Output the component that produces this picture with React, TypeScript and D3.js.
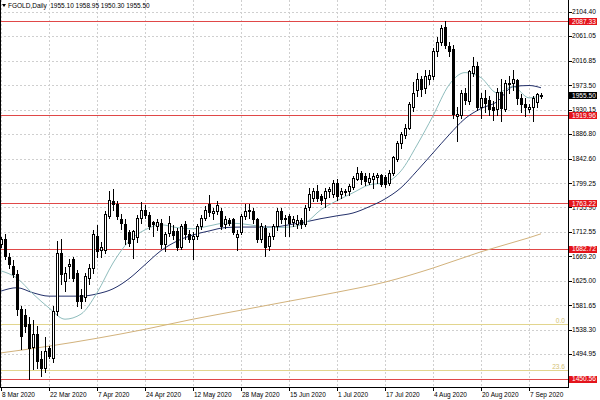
import React from "react";
import * as d3 from "d3";

// ---- Data ----
const opens = [
  1690, 1700, 1668, 1652, 1637, 1575, 1565, 1548, 1508, 1530, 1486, 1470, 1505, 1488, 1572, 1675, 1625, 1652, 1665, 1640,
  1600, 1597, 1630, 1648, 1705, 1680, 1680, 1740, 1768, 1762, 1735, 1727, 1712, 1700, 1703, 1737, 1752, 1743, 1730, 1723,
  1729, 1690, 1711, 1714, 1714, 1686, 1727, 1708, 1700, 1705, 1723, 1738, 1762, 1746, 1750, 1750, 1727, 1733, 1735, 1704,
  1712, 1740, 1751, 1750, 1735, 1700, 1720, 1688, 1705, 1722, 1750, 1737, 1740, 1730, 1726, 1734, 1726, 1757, 1773, 1785,
  1776, 1773, 1786, 1780, 1800, 1779, 1784, 1785, 1793, 1806, 1818, 1812, 1802, 1806, 1811, 1813, 1810, 1800, 1817, 1842,
  1870, 1884, 1898, 1935, 1965, 1985, 1968, 1985, 1990, 2035, 2050, 2077, 2043, 2038, 1918, 1920, 1960, 1946, 1996, 2008,
  1934, 1950, 1948, 1935, 1932, 1962, 1932, 1975, 1977, 1982, 1950, 1940, 1932, 1935, 1943, 1955.1,
];
const highs = [
  1703, 1709, 1674, 1662, 1645, 1580, 1575, 1560, 1556, 1545, 1500, 1525, 1510, 1580, 1697, 1700, 1650, 1665, 1668, 1645,
  1610, 1640, 1655, 1715, 1725, 1695, 1750, 1785, 1788, 1768, 1745, 1735, 1715, 1715, 1742, 1765, 1760, 1748, 1732, 1735,
  1735, 1712, 1741, 1724, 1720, 1726, 1732, 1715, 1712, 1727, 1742, 1758, 1778, 1755, 1768, 1755, 1740, 1738, 1738, 1715,
  1745, 1762, 1762, 1755, 1738, 1728, 1725, 1710, 1727, 1755, 1755, 1742, 1745, 1740, 1743, 1738, 1760, 1791, 1790, 1795,
  1780, 1790, 1792, 1805, 1806, 1790, 1789, 1798, 1812, 1828, 1820, 1818, 1818, 1817, 1818, 1816, 1814, 1822, 1848, 1874,
  1890, 1905, 1944, 1980, 1995, 1990, 2000, 2000, 2040, 2060, 2080, 2088, 2050, 2045, 1935, 1965, 1968, 2000, 2023, 2015,
  1960, 1965, 1955, 1945, 1968, 1985, 1983, 1990, 2000, 1985, 1958, 1950, 1940, 1955, 1960, 1958.95,
];
const lows = [
  1686, 1665, 1648, 1632, 1565, 1504, 1535, 1451, 1468, 1470, 1456, 1463, 1488, 1480, 1565, 1620, 1608, 1630, 1625, 1580,
  1577, 1590, 1620, 1640, 1668, 1668, 1675, 1738, 1752, 1735, 1718, 1690, 1688, 1666, 1695, 1728, 1738, 1718, 1705, 1715,
  1684, 1678, 1705, 1700, 1680, 1682, 1700, 1695, 1665, 1700, 1718, 1733, 1740, 1735, 1745, 1718, 1720, 1725, 1708, 1681,
  1708, 1735, 1738, 1728, 1695, 1694, 1670, 1680, 1700, 1716, 1728, 1705, 1705, 1722, 1720, 1720, 1722, 1752, 1768, 1768,
  1762, 1756, 1775, 1775, 1770, 1773, 1778, 1778, 1788, 1804, 1797, 1795, 1798, 1790, 1800, 1794, 1792, 1796, 1814, 1838,
  1862, 1880, 1895, 1928, 1955, 1955, 1960, 1975, 1985, 2025, 2045, 2040, 2025, 1915, 1874, 1915, 1940, 1940, 1990, 1930,
  1915, 1925, 1920, 1912, 1920, 1910, 1928, 1960, 1965, 1940, 1925, 1918, 1925, 1910, 1935, 1950.3,
];
const closes = [
  1700, 1670, 1655, 1638, 1575, 1527, 1545, 1506, 1530, 1482, 1470, 1500, 1492, 1572, 1675, 1638, 1640, 1655, 1630, 1590,
  1590, 1633, 1648, 1708, 1678, 1685, 1745, 1770, 1762, 1740, 1728, 1700, 1692, 1714, 1737, 1752, 1743, 1723, 1726, 1730,
  1690, 1708, 1729, 1706, 1685, 1722, 1708, 1700, 1705, 1723, 1738, 1752, 1748, 1750, 1760, 1723, 1735, 1729, 1712, 1709,
  1740, 1750, 1749, 1735, 1700, 1722, 1685, 1705, 1722, 1750, 1735, 1735, 1729, 1735, 1734, 1727, 1755, 1780, 1785, 1773,
  1770, 1785, 1788, 1800, 1776, 1785, 1785, 1794, 1809, 1818, 1806, 1803, 1809, 1812, 1813, 1797, 1797, 1818, 1845, 1871,
  1886, 1898, 1940, 1960, 1985, 1967, 1990, 1992, 2035, 2050, 2075, 2045, 2035, 1922, 1922, 1960, 1948, 1998, 2008, 1934,
  1950, 1942, 1932, 1930, 1962, 1933, 1978, 1978, 1985, 1950, 1940, 1934, 1935, 1950, 1957, 1955.5,
];

const dateLabels = [
  "8 Mar 2020", "22 Mar 2020", "7 Apr 2020", "24 Apr 2020", "12 May 2020", "28 May 2020",
  "15 Jun 2020", "1 Jul 2020", "17 Jul 2020", "4 Aug 2020", "20 Aug 2020", "7 Sep 2020",
];
const dateLabelBars = [0, 12, 24, 36, 48, 60, 72, 84, 96, 108, 120, 132];

const priceTicks = [
  2104.4, 2061.05, 2016.85, 1973.5, 1930.15, 1886.8, 1842.6, 1799.25, 1755.9, 1712.55, 1669.2, 1625.0, 1581.65,
  1538.3, 1494.95,
];

const levelLines = [2087.33, 1919.96, 1763.22, 1682.72, 1450.56];
const fibLabels = ["0.0", "23.6"];
const fibValues = [1548.4, 1465.8];

const maBars = [0, 4, 8, 12, 16, 20, 24, 28, 32, 36, 40, 44, 48, 52, 56, 60, 64, 68, 72, 76, 80, 84, 88, 92, 96, 100, 104, 108, 112, 116, 120, 124, 128, 132, 135];
const fastMA = [1643, 1630, 1602, 1577, 1557, 1566, 1604, 1657, 1696, 1716, 1725, 1720, 1718, 1723, 1728, 1727, 1723, 1720, 1721, 1728, 1752, 1768, 1782, 1796, 1800, 1821, 1867, 1919, 1974, 1996, 1987, 1960, 1971, 1951, 1955];
const slowMA = [1607, 1613, 1604, 1598, 1598, 1598, 1602, 1611, 1629, 1654, 1679, 1696, 1707, 1714, 1720, 1721, 1721, 1721, 1725, 1730, 1736, 1741, 1746, 1757, 1771, 1791, 1821, 1853, 1885, 1914, 1932, 1944, 1971, 1973, 1969];
const longBars = [0, 12, 24, 36, 48, 60, 72, 84, 96, 108, 120, 132, 135];
const longMA = [1497, 1509, 1523, 1539, 1557, 1573, 1589, 1605, 1623, 1648, 1677, 1702, 1709];

const title = "FGOLD,Daily  1955.10 1958.95 1950.30 1955.50";
const currentPrice = 1955.5;

// ---- Layout ----
const W = 600;
const H = 400;
const PLOT_R = 568;
const PLOT_B = 387;
const FONT = "'Liberation Sans', Arial, sans-serif";
const LEVEL_COLOR = "#e04848";

const xs = d3.scaleLinear().domain([0, 141.75]).range([1, PLOT_R]);
const ys = d3.scaleLinear().domain([1436.25, 2125.23]).range([PLOT_B, 0]);

function fmt(v: number) {
  return v.toFixed(2);
}

export default function App() {
  const maLine = (vals: number[], bars: number[]) =>
    d3
      .line<number>()
      .x((_, k) => xs(bars[k]))
      .y((v) => ys(v))
      .curve(d3.curveMonotoneX)(vals) || "";

  const candles = opens.map((o, i) => {
    const c = closes[i];
    const h = highs[i];
    const l = lows[i];
    const cx = Math.round(xs(i));
    const yo = Math.round(ys(o));
    const yc = Math.round(ys(c));
    const yh = Math.round(ys(h));
    const yl = Math.round(ys(l));
    const parts: React.ReactNode[] = [];
    parts.push(<line key="w" x1={cx + 0.5} x2={cx + 0.5} y1={yh} y2={yl + 1} stroke="#000" strokeWidth={1} />);
    if (Math.abs(yo - yc) < 1) {
      parts.push(<line key="d" x1={cx - 1} x2={cx + 2} y1={yo + 0.5} y2={yo + 0.5} stroke="#000" strokeWidth={1} />);
    } else if (c > o) {
      parts.push(
        <rect key="b" x={cx - 0.5} y={yc + 0.5} width={2} height={yo - yc} fill="#fff" stroke="#000" strokeWidth={1} />
      );
    } else {
      parts.push(<rect key="b" x={cx - 1} y={yo} width={3} height={yc - yo + 1} fill="#000" />);
    }
    return <g key={i}>{parts}</g>;
  });

  return (
    <svg
      width={W}
      height={H}
      viewBox={`0 0 ${W} ${H}`}
      style={{ position: "absolute", left: 0, top: 0, background: "#fff", display: "block" }}
    >
      <rect x={0} y={0} width={W} height={H} fill="#fff" />
      {/* grid */}
      <g stroke="#cfcfcf" strokeDasharray="2,2" strokeWidth={1} shapeRendering="crispEdges">
        {priceTicks.map((p) => (
          <line key={"h" + p} x1={0} x2={PLOT_R} y1={Math.round(ys(p)) + 0.5} y2={Math.round(ys(p)) + 0.5} />
        ))}
        {dateLabelBars.map((b) => (
          <line key={"v" + b} x1={Math.round(xs(b)) + 0.5} x2={Math.round(xs(b)) + 0.5} y1={0} y2={PLOT_B} />
        ))}
      </g>

      {/* fibonacci lines */}
      {fibValues.map((v, k) => (
        <g key={"f" + k}>
          <rect x={0} y={Math.round(ys(v))} width={PLOT_R} height={1} fill="#e2d58e" />
          <text x={PLOT_R - 3} y={Math.round(ys(v)) - 1} fontSize={6.6} fontFamily={FONT} fill="#d4c273" textAnchor="end">
            {fibLabels[k]}
          </text>
        </g>
      ))}

      {/* level lines (drawn as 1px filled rects) */}
      {levelLines.map((v) => (
        <rect key={"l" + v} x={0} y={Math.round(ys(v))} width={PLOT_R} height={1} fill={LEVEL_COLOR} />
      ))}

      {/* moving averages */}
      <g fill="none">
        <path d={maLine(longMA, longBars)} stroke="#d2b27c" strokeWidth={1} />
        <path d={maLine(slowMA, maBars)} stroke="#23306a" strokeWidth={1} />
        <path d={maLine(fastMA, maBars)} stroke="#8fbdbd" strokeWidth={1} />
      </g>

      {/* candles */}
      <g shapeRendering="crispEdges">{candles}</g>

      {/* borders */}
      <g shapeRendering="crispEdges">
        <line x1={PLOT_R + 0.5} x2={PLOT_R + 0.5} y1={0} y2={PLOT_B + 1} stroke="#000" />
        <line x1={0} x2={PLOT_R + 1} y1={PLOT_B + 0.5} y2={PLOT_B + 0.5} stroke="#000" />
        <line x1={0.5} x2={0.5} y1={0} y2={PLOT_B} stroke="#000" />
      </g>

      {/* price axis */}
      {priceTicks.map((p) => (
        <g key={"pt" + p}>
          <line x1={PLOT_R + 1} x2={PLOT_R + 4} y1={Math.round(ys(p)) + 0.5} y2={Math.round(ys(p)) + 0.5} stroke="#000" shapeRendering="crispEdges" />
          <text x={572} y={ys(p) + 2.4} fontSize={6.6} fontFamily={FONT} fill="#000">
            {fmt(p)}
          </text>
        </g>
      ))}
      {levelLines.map((v) => (
        <g key={"ll" + v}>
          <rect x={569} y={Math.round(ys(v)) - 3} width={28} height={7} fill="#e4141c" />
          <text x={572} y={ys(v) + 2.4} fontSize={6.6} fontFamily={FONT} fill="#fff">
            {fmt(v)}
          </text>
        </g>
      ))}
      <g>
        <rect x={569} y={Math.round(ys(currentPrice)) - 3} width={28} height={7} fill="#000" />
        <text x={572} y={ys(currentPrice) + 2.4} fontSize={6.6} fontFamily={FONT} fill="#fff">
          {fmt(currentPrice)}
        </text>
      </g>

      {/* date axis */}
      {dateLabelBars.map((b, k) => (
        <g key={"d" + b}>
          <line x1={Math.round(xs(b)) + 0.5} x2={Math.round(xs(b)) + 0.5} y1={PLOT_B + 1} y2={PLOT_B + 4} stroke="#000" shapeRendering="crispEdges" />
          <text x={Math.round(xs(b)) + 1} y={396.5} fontSize={6.5} fontFamily={FONT} fill="#000">
            {dateLabels[k]}
          </text>
        </g>
      ))}

      {/* title */}
      <path d="M2,4 L6,4 L4,7 Z" fill="#000" />
      <text x={8} y={8} fontSize={6.5} fontFamily={FONT} fill="#000" style={{ whiteSpace: "pre" }}>
        {title}
      </text>
    </svg>
  );
}
